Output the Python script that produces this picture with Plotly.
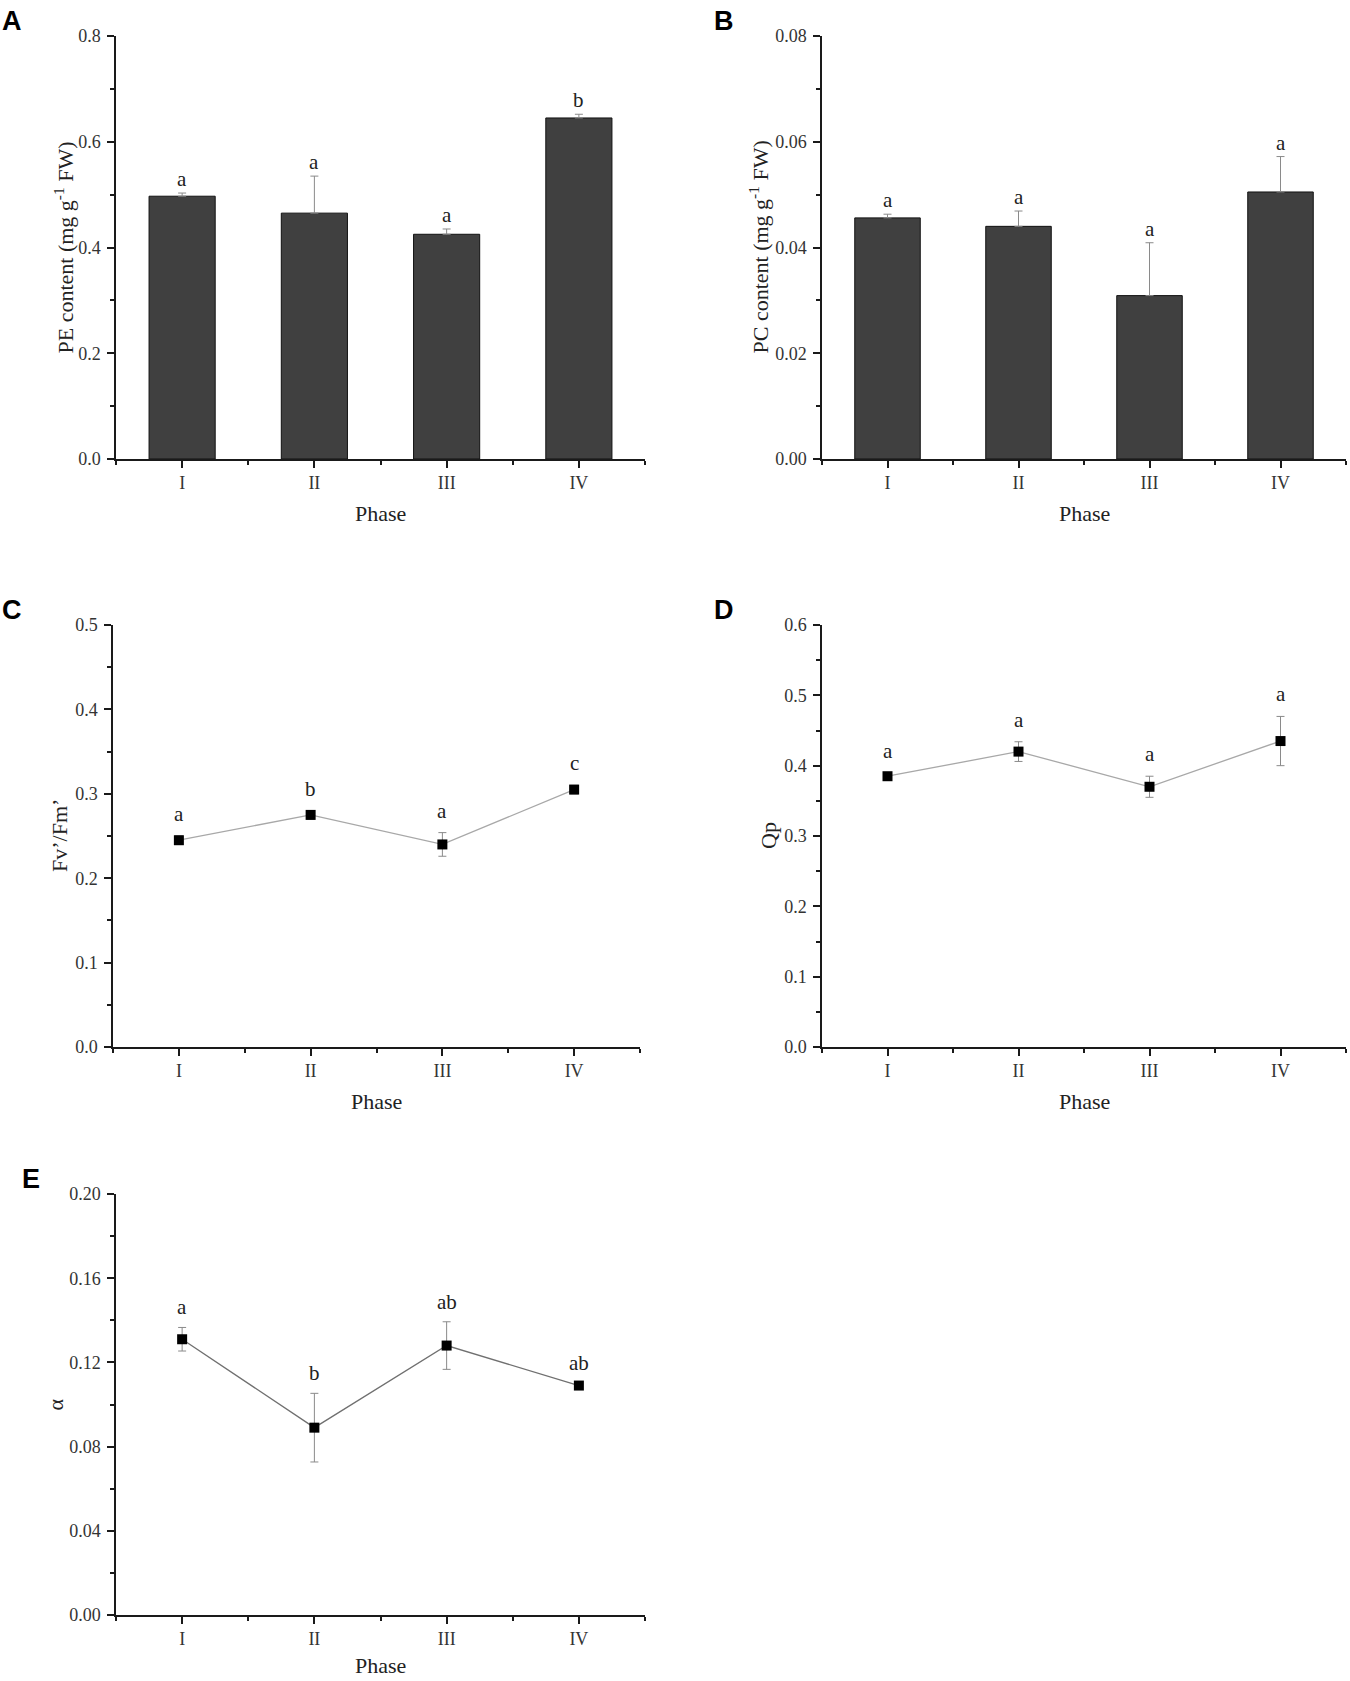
import plotly.graph_objects as go

W, H = 1350, 1681

phases = ["I", "II", "III", "IV"]
xpos = [0, 1, 2, 3]

# A: PE content (bars, upper error only)
pe_mean = [0.497, 0.465, 0.425, 0.645]
pe_err = [0.006, 0.070, 0.010, 0.007]
pe_sig = ["a", "a", "a", "b"]

# B: PC content
pc_mean = [0.0456, 0.0440, 0.0309, 0.0505]
pc_err = [0.0007, 0.0029, 0.0100, 0.0067]
pc_sig = ["a", "a", "a", "a"]

# C: Fv'/Fm'
fv_mean = [0.245, 0.275, 0.240, 0.305]
fv_err = [0.005, 0.005, 0.014, 0.005]
fv_sig = ["a", "b", "a", "c"]

# D: Qp
qp_mean = [0.385, 0.420, 0.370, 0.435]
qp_err = [0.005, 0.014, 0.015, 0.035]
qp_sig = ["a", "a", "a", "a"]

# E: alpha
al_mean = [0.131, 0.089, 0.128, 0.109]
al_err = [0.0056, 0.0163, 0.0113, 0.001]
al_sig = ["a", "b", "ab", "ab"]

SERIF = "Liberation Serif"
SANS = "Liberation Sans"

fig = go.Figure()
annotations = []


def px_x(p):
    return p / W


def px_y(p):
    return 1 - p / H


def panel(idx, letter, letter_x, x0, x1, y0, y1, ymax, dtick, fmt, ytitle, ytitle_x,
          kind, mean, err, sig, line_color=None, label_shift=8, phase_y=54):
    xa = "x" if idx == 1 else "x%d" % idx
    ya = "y" if idx == 1 else "y%d" % idx
    xl = "xaxis" if idx == 1 else "xaxis%d" % idx
    yl = "yaxis" if idx == 1 else "yaxis%d" % idx

    if kind == "bar":
        fig.add_trace(go.Bar(
            x=xpos, y=mean, width=0.5, xaxis=xa, yaxis=ya,
            marker=dict(color="#404040", line=dict(color="#111111", width=1)),
            error_y=dict(type="data", array=err, arrayminus=[0] * len(err),
                         symmetric=False, color="#8a8a8a", thickness=1, width=4),
            showlegend=False))
    else:
        fig.add_trace(go.Scatter(
            x=xpos, y=mean, mode="lines+markers", xaxis=xa, yaxis=ya,
            line=dict(color=line_color, width=1.3),
            marker=dict(symbol="square", size=10, color="black"),
            error_y=dict(type="data", array=err, color="#8a8a8a",
                         thickness=1, width=4),
            showlegend=False))

    fig.update_layout(**{
        xl: dict(domain=[px_x(x0), px_x(x1)], anchor=ya, range=[-0.5, 3.5],
                 tickmode="array", tickvals=xpos, ticktext=phases,
                 minor=dict(tickmode="array", tickvals=[-0.5, 0.5, 1.5, 2.5, 3.5],
                            ticks="outside", ticklen=4, tickcolor="#1a1a1a",
                            tickwidth=1.5)),
        yl: dict(domain=[px_y(y1), px_y(y0)], anchor=xa, range=[0, ymax],
                 tick0=0, dtick=dtick, tickformat=fmt, ticklabelstandoff=3,
                 minor=dict(dtick=dtick / 2, ticks="outside", ticklen=4,
                            tickcolor="#1a1a1a", tickwidth=1.5)),
    })

    # significance letters
    for i in range(len(mean)):
        annotations.append(dict(
            x=xpos[i], y=mean[i] + err[i], xref=xa, yref=ya, text=sig[i],
            showarrow=False, yanchor="bottom", yshift=label_shift,
            font=dict(family=SERIF, size=21, color="#222222")))

    # axis titles
    annotations.append(dict(
        x=px_x((x0 + x1) / 2), y=px_y(y1 + phase_y), xref="paper", yref="paper",
        text="Phase", showarrow=False, xanchor="center", yanchor="middle",
        font=dict(family=SERIF, size=22, color="#222222")))
    annotations.append(dict(
        x=px_x(ytitle_x), y=px_y((y0 + y1) / 2), xref="paper", yref="paper",
        text=ytitle, showarrow=False, textangle=-90, xanchor="center",
        yanchor="middle", font=dict(family=SERIF, size=22, color="#222222")))
    # panel letter
    annotations.append(dict(
        x=px_x(letter_x), y=px_y(y0 - 32), xref="paper", yref="paper",
        text="<b>%s</b>" % letter, showarrow=False, xanchor="left", yanchor="top",
        font=dict(family=SANS, size=27, color="black")))


panel(1, "A", 0, 116, 645, 36, 459, 0.8, 0.2, ".1f",
      "PE content (mg g<sup>-1</sup> FW)", 63, "bar", pe_mean, pe_err, pe_sig,
      label_shift=0)
panel(2, "B", 712, 822, 1346, 36, 459, 0.08, 0.02, ".2f",
      "PC content (mg g<sup>-1</sup> FW)", 758, "bar", pc_mean, pc_err, pc_sig,
      label_shift=0)
panel(3, "C", 0, 113, 640, 625, 1047, 0.5, 0.1, ".1f",
      "Fv’/Fm’", 59, "line", fv_mean, fv_err, fv_sig,
      line_color="#a8a8a8", label_shift=8)
panel(4, "D", 712, 822, 1346, 625, 1047, 0.6, 0.1, ".1f",
      "Qp", 768, "line", qp_mean, qp_err, qp_sig,
      line_color="#a8a8a8", label_shift=8)
panel(5, "E", 20, 116, 645, 1194, 1615, 0.2, 0.04, ".2f",
      "α", 55, "line", al_mean, al_err, al_sig,
      line_color="#707070", label_shift=6, phase_y=50)

fig.update_xaxes(showline=True, linecolor="#1a1a1a", linewidth=1.5,
                 showgrid=False, zeroline=False, ticks="outside",
                 tickcolor="#1a1a1a", tickwidth=1.5, ticklen=7, automargin=False,
                 tickfont=dict(family=SERIF, size=18, color="#333333"))
fig.update_yaxes(showline=True, linecolor="#1a1a1a", linewidth=1.5,
                 showgrid=False, zeroline=False, ticks="outside",
                 tickcolor="#1a1a1a", tickwidth=1.5, ticklen=7, automargin=False,
                 tickfont=dict(family=SERIF, size=18, color="#333333"))

fig.update_layout(
    template="none",
    width=W, height=H, margin=dict(l=0, r=0, t=0, b=0, pad=0),
    paper_bgcolor="white", plot_bgcolor="white",
    annotations=annotations, showlegend=False)

# page body has a default 8px margin; drop it so the figure sits at the window corner
fig.write_html("out.html", config={"displayModeBar": False},
               post_script="document.body.style.margin='0px';")
